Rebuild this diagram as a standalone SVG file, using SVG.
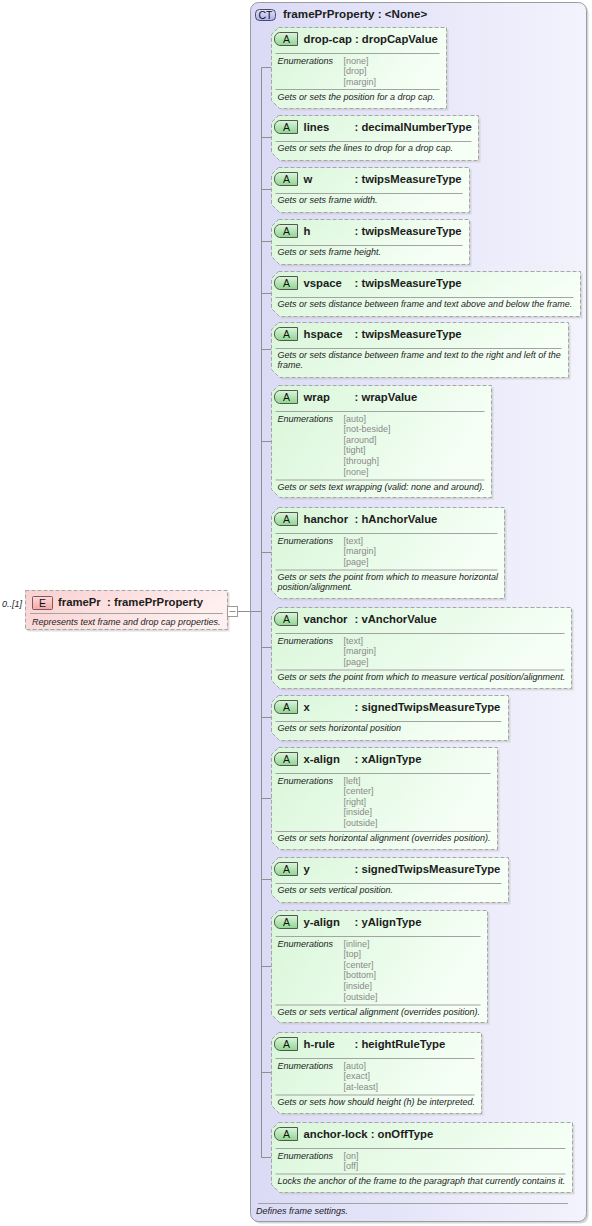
<svg xmlns="http://www.w3.org/2000/svg" width="592" height="1226" viewBox="0 0 592 1226">
<defs>
<linearGradient id="gCT" x1="0" y1="0" x2="1" y2="0"><stop offset="0" stop-color="#dadaf6"/><stop offset="1" stop-color="#f3f3fd"/></linearGradient>
<linearGradient id="gA" x1="0" y1="0" x2="1" y2="0.3"><stop offset="0" stop-color="#d9f6d9"/><stop offset="1" stop-color="#f6fff6"/></linearGradient>
<linearGradient id="gE" x1="0" y1="0" x2="1" y2="0.3"><stop offset="0" stop-color="#f9d0d0"/><stop offset="1" stop-color="#fff0f0"/></linearGradient>
<linearGradient id="gBA" x1="0" y1="0" x2="0" y2="1"><stop offset="0" stop-color="#dcf6dc"/><stop offset="1" stop-color="#8ed58e"/></linearGradient>
<linearGradient id="gBC" x1="0" y1="0" x2="0" y2="1"><stop offset="0" stop-color="#e2e2fb"/><stop offset="1" stop-color="#aeaeea"/></linearGradient>
<linearGradient id="gBE" x1="0" y1="0" x2="0" y2="1"><stop offset="0" stop-color="#fbdcdc"/><stop offset="1" stop-color="#f0a8a8"/></linearGradient>
</defs>
<style>
.ct{fill:url(#gCT);stroke:#9c9c9c;stroke-width:1}
.ctshd{fill:#d6d6d6}
.attr{fill:url(#gA);stroke:#a6a6a6;stroke-dasharray:4 2}
.elem{fill:url(#gE);stroke:#a6a6a6;stroke-dasharray:4 2}
.shd{fill:#c8c8c8;opacity:.6}
.bA{fill:url(#gBA);stroke:#555}
.bC{fill:url(#gBC);stroke:#4a4a6a}
.bE{fill:url(#gBE);stroke:#8a5555}
.sep{stroke:#a3a3a3;stroke-width:1;fill:none}
.con{stroke:#8f8f8f;stroke-width:1;fill:none}
.hdr{font-family:'Liberation Sans',Arial,sans-serif;font-weight:bold;font-size:11.3px;fill:#1c1c1c}
.bt{font-family:'Liberation Sans',Arial,sans-serif;font-size:10.5px;fill:#111;text-anchor:middle}
.dsc{font-family:'Liberation Sans',Arial,sans-serif;font-style:italic;font-size:9px;fill:#222}
.env{font-family:'Liberation Sans',Arial,sans-serif;font-size:9px;fill:#8a8a8a}
.minus{fill:#fff;stroke:#9a9a9a}
</style>

<g id="ct-framePrProperty">
<rect class="ctshd" x="252.5" y="4.5" width="336" height="1219" rx="8"/>
<rect class="ct" x="250.5" y="2.5" width="336" height="1219" rx="8"/>
<rect class="bC" x="255.5" y="9.5" width="20" height="11" rx="4"/>
<text class="bt" x="265.5" y="18.8">CT</text>
<text class="hdr" x="283" y="17.5" style="font-size:11.6px">framePrProperty : &lt;None&gt;</text>
<line class="sep" x1="258" y1="1203.5" x2="568" y2="1203.5"/>
<text class="dsc" x="256" y="1213.5">Defines frame settings.</text>
</g>

<g id="connectors">
<path class="con" d="M261.5,67.5 V1157.5"/>
<path class="con" d="M261.5,67.5 H271.5 M261.5,137.5 H271.5 M261.5,189.5 H271.5 M261.5,241.5 H271.5 M261.5,293.5 H271.5 M261.5,349.5 H271.5 M261.5,441.5 H271.5 M261.5,552.5 H271.5 M261.5,647.5 H271.5 M261.5,717.5 H271.5 M261.5,798.5 H271.5 M261.5,879.5 H271.5 M261.5,966.5 H271.5 M261.5,1072.5 H271.5 M261.5,1157.5 H271.5"/>
<path class="con" d="M237.5,611.5 H261.5"/>
</g>

<g id="attr-drop-cap" transform="translate(271.5,27.5)">
<path class="shd" d="M9,2 H177 V83 H10 L2,75 V9 Z"/>
<path class="attr" d="M7,0 H175 V81 H8 L0,73 V7 Z"/>
<path class="bA" d="M26,5 H8 C4,6 3,9 3,11.5 C3,14 4,17 8,18 H26 Z"/>
<text class="bt" x="15" y="15.5">A</text>
<text class="hdr" x="32" y="15.5">drop-cap : dropCapValue</text>
<line class="sep" x1="4" y1="26" x2="168" y2="26"/>
<text class="dsc" x="6" y="36">Enumerations</text>
<text class="env" x="72" y="36">[none]</text>
<text class="env" x="72" y="46.6">[drop]</text>
<text class="env" x="72" y="57.2">[margin]</text>
<line class="sep" x1="4" y1="62" x2="168" y2="62"/>
<text class="dsc" x="6" y="72">Gets or sets the position for a drop cap.</text>
</g>

<g id="attr-lines" transform="translate(271.5,115.5)">
<path class="shd" d="M9,2 H209 V47 H10 L2,39 V9 Z"/>
<path class="attr" d="M7,0 H207 V45 H8 L0,37 V7 Z"/>
<path class="bA" d="M26,5 H8 C4,6 3,9 3,11.5 C3,14 4,17 8,18 H26 Z"/>
<text class="bt" x="15" y="15.5">A</text>
<text class="hdr" x="32" y="15.5">lines</text>
<text class="hdr" x="83" y="15.5">: decimalNumberType</text>
<line class="sep" x1="4" y1="26" x2="200" y2="26"/>
<text class="dsc" x="6" y="35.5">Gets or sets the lines to drop for a drop cap.</text>
</g>

<g id="attr-w" transform="translate(271.5,167.5)">
<path class="shd" d="M9,2 H200 V47 H10 L2,39 V9 Z"/>
<path class="attr" d="M7,0 H198 V45 H8 L0,37 V7 Z"/>
<path class="bA" d="M26,5 H8 C4,6 3,9 3,11.5 C3,14 4,17 8,18 H26 Z"/>
<text class="bt" x="15" y="15.5">A</text>
<text class="hdr" x="32" y="15.5">w</text>
<text class="hdr" x="83" y="15.5">: twipsMeasureType</text>
<line class="sep" x1="4" y1="26" x2="191" y2="26"/>
<text class="dsc" x="6" y="35.5">Gets or sets frame width.</text>
</g>

<g id="attr-h" transform="translate(271.5,219.5)">
<path class="shd" d="M9,2 H200 V47 H10 L2,39 V9 Z"/>
<path class="attr" d="M7,0 H198 V45 H8 L0,37 V7 Z"/>
<path class="bA" d="M26,5 H8 C4,6 3,9 3,11.5 C3,14 4,17 8,18 H26 Z"/>
<text class="bt" x="15" y="15.5">A</text>
<text class="hdr" x="32" y="15.5">h</text>
<text class="hdr" x="83" y="15.5">: twipsMeasureType</text>
<line class="sep" x1="4" y1="26" x2="191" y2="26"/>
<text class="dsc" x="6" y="35.5">Gets or sets frame height.</text>
</g>

<g id="attr-vspace" transform="translate(271.5,271.5)">
<path class="shd" d="M9,2 H311 V47 H10 L2,39 V9 Z"/>
<path class="attr" d="M7,0 H309 V45 H8 L0,37 V7 Z"/>
<path class="bA" d="M26,5 H8 C4,6 3,9 3,11.5 C3,14 4,17 8,18 H26 Z"/>
<text class="bt" x="15" y="15.5">A</text>
<text class="hdr" x="32" y="15.5">vspace</text>
<text class="hdr" x="83" y="15.5">: twipsMeasureType</text>
<line class="sep" x1="4" y1="26" x2="302" y2="26"/>
<text class="dsc" x="6" y="35.5">Gets or sets distance between frame and text above and below the frame.</text>
</g>

<g id="attr-hspace" transform="translate(271.5,322.5)">
<path class="shd" d="M9,2 H299 V57 H10 L2,49 V9 Z"/>
<path class="attr" d="M7,0 H297 V55 H8 L0,47 V7 Z"/>
<path class="bA" d="M26,5 H8 C4,6 3,9 3,11.5 C3,14 4,17 8,18 H26 Z"/>
<text class="bt" x="15" y="15.5">A</text>
<text class="hdr" x="32" y="15.5">hspace</text>
<text class="hdr" x="83" y="15.5">: twipsMeasureType</text>
<line class="sep" x1="4" y1="26" x2="290" y2="26"/>
<text class="dsc" x="6" y="35.5">Gets or sets distance between frame and text to the right and left of the</text>
<text class="dsc" x="6" y="45.5">frame.</text>
</g>

<g id="attr-wrap" transform="translate(271.5,385.5)">
<path class="shd" d="M9,2 H222 V114 H10 L2,106 V9 Z"/>
<path class="attr" d="M7,0 H220 V112 H8 L0,104 V7 Z"/>
<path class="bA" d="M26,5 H8 C4,6 3,9 3,11.5 C3,14 4,17 8,18 H26 Z"/>
<text class="bt" x="15" y="15.5">A</text>
<text class="hdr" x="32" y="15.5">wrap</text>
<text class="hdr" x="83" y="15.5">: wrapValue</text>
<line class="sep" x1="4" y1="26" x2="213" y2="26"/>
<text class="dsc" x="6" y="36">Enumerations</text>
<text class="env" x="72" y="36">[auto]</text>
<text class="env" x="72" y="46.6">[not-beside]</text>
<text class="env" x="72" y="57.2">[around]</text>
<text class="env" x="72" y="67.8">[tight]</text>
<text class="env" x="72" y="78.4">[through]</text>
<text class="env" x="72" y="89">[none]</text>
<line class="sep" x1="4" y1="94.5" x2="213" y2="94.5"/>
<text class="dsc" x="6" y="104">Gets or sets text wrapping (valid: none and around).</text>
</g>

<g id="attr-hanchor" transform="translate(271.5,507.5)">
<path class="shd" d="M9,2 H235 V93 H10 L2,85 V9 Z"/>
<path class="attr" d="M7,0 H233 V91 H8 L0,83 V7 Z"/>
<path class="bA" d="M26,5 H8 C4,6 3,9 3,11.5 C3,14 4,17 8,18 H26 Z"/>
<text class="bt" x="15" y="15.5">A</text>
<text class="hdr" x="32" y="15.5">hanchor</text>
<text class="hdr" x="83" y="15.5">: hAnchorValue</text>
<line class="sep" x1="4" y1="26" x2="226" y2="26"/>
<text class="dsc" x="6" y="36">Enumerations</text>
<text class="env" x="72" y="36">[text]</text>
<text class="env" x="72" y="46.6">[margin]</text>
<text class="env" x="72" y="57.2">[page]</text>
<line class="sep" x1="4" y1="62.5" x2="226" y2="62.5"/>
<text class="dsc" x="6" y="72">Gets or sets the point from which to measure horizontal</text>
<text class="dsc" x="6" y="82">position/alignment.</text>
</g>

<g id="attr-vanchor" transform="translate(271.5,607.5)">
<path class="shd" d="M9,2 H302 V83 H10 L2,75 V9 Z"/>
<path class="attr" d="M7,0 H300 V81 H8 L0,73 V7 Z"/>
<path class="bA" d="M26,5 H8 C4,6 3,9 3,11.5 C3,14 4,17 8,18 H26 Z"/>
<text class="bt" x="15" y="15.5">A</text>
<text class="hdr" x="32" y="15.5">vanchor</text>
<text class="hdr" x="83" y="15.5">: vAnchorValue</text>
<line class="sep" x1="4" y1="26" x2="293" y2="26"/>
<text class="dsc" x="6" y="36">Enumerations</text>
<text class="env" x="72" y="36">[text]</text>
<text class="env" x="72" y="46.6">[margin]</text>
<text class="env" x="72" y="57.2">[page]</text>
<line class="sep" x1="4" y1="62.5" x2="293" y2="62.5"/>
<text class="dsc" x="6" y="72">Gets or sets the point from which to measure vertical position/alignment.</text>
</g>

<g id="attr-x" transform="translate(271.5,695.5)">
<path class="shd" d="M9,2 H239 V47 H10 L2,39 V9 Z"/>
<path class="attr" d="M7,0 H237 V45 H8 L0,37 V7 Z"/>
<path class="bA" d="M26,5 H8 C4,6 3,9 3,11.5 C3,14 4,17 8,18 H26 Z"/>
<text class="bt" x="15" y="15.5">A</text>
<text class="hdr" x="32" y="15.5">x</text>
<text class="hdr" x="83" y="15.5">: signedTwipsMeasureType</text>
<line class="sep" x1="4" y1="26" x2="230" y2="26"/>
<text class="dsc" x="6" y="35.5">Gets or sets horizontal position</text>
</g>

<g id="attr-x-align" transform="translate(271.5,747.5)">
<path class="shd" d="M9,2 H228 V104 H10 L2,96 V9 Z"/>
<path class="attr" d="M7,0 H226 V102 H8 L0,94 V7 Z"/>
<path class="bA" d="M26,5 H8 C4,6 3,9 3,11.5 C3,14 4,17 8,18 H26 Z"/>
<text class="bt" x="15" y="15.5">A</text>
<text class="hdr" x="32" y="15.5">x-align</text>
<text class="hdr" x="83" y="15.5">: xAlignType</text>
<line class="sep" x1="4" y1="26" x2="219" y2="26"/>
<text class="dsc" x="6" y="36">Enumerations</text>
<text class="env" x="72" y="36">[left]</text>
<text class="env" x="72" y="46.6">[center]</text>
<text class="env" x="72" y="57.2">[right]</text>
<text class="env" x="72" y="67.8">[inside]</text>
<text class="env" x="72" y="78.4">[outside]</text>
<line class="sep" x1="4" y1="84" x2="219" y2="84"/>
<text class="dsc" x="6" y="93.5">Gets or sets horizontal alignment (overrides position).</text>
</g>

<g id="attr-y" transform="translate(271.5,857.5)">
<path class="shd" d="M9,2 H239 V47 H10 L2,39 V9 Z"/>
<path class="attr" d="M7,0 H237 V45 H8 L0,37 V7 Z"/>
<path class="bA" d="M26,5 H8 C4,6 3,9 3,11.5 C3,14 4,17 8,18 H26 Z"/>
<text class="bt" x="15" y="15.5">A</text>
<text class="hdr" x="32" y="15.5">y</text>
<text class="hdr" x="83" y="15.5">: signedTwipsMeasureType</text>
<line class="sep" x1="4" y1="26" x2="230" y2="26"/>
<text class="dsc" x="6" y="35.5">Gets or sets vertical position.</text>
</g>

<g id="attr-y-align" transform="translate(271.5,910.5)">
<path class="shd" d="M9,2 H218 V114 H10 L2,106 V9 Z"/>
<path class="attr" d="M7,0 H216 V112 H8 L0,104 V7 Z"/>
<path class="bA" d="M26,5 H8 C4,6 3,9 3,11.5 C3,14 4,17 8,18 H26 Z"/>
<text class="bt" x="15" y="15.5">A</text>
<text class="hdr" x="32" y="15.5">y-align</text>
<text class="hdr" x="83" y="15.5">: yAlignType</text>
<line class="sep" x1="4" y1="26" x2="209" y2="26"/>
<text class="dsc" x="6" y="36">Enumerations</text>
<text class="env" x="72" y="36">[inline]</text>
<text class="env" x="72" y="46.6">[top]</text>
<text class="env" x="72" y="57.2">[center]</text>
<text class="env" x="72" y="67.8">[bottom]</text>
<text class="env" x="72" y="78.4">[inside]</text>
<text class="env" x="72" y="89">[outside]</text>
<line class="sep" x1="4" y1="94.5" x2="209" y2="94.5"/>
<text class="dsc" x="6" y="104">Gets or sets vertical alignment (overrides position).</text>
</g>

<g id="attr-h-rule" transform="translate(271.5,1032.5)">
<path class="shd" d="M9,2 H212 V83 H10 L2,75 V9 Z"/>
<path class="attr" d="M7,0 H210 V81 H8 L0,73 V7 Z"/>
<path class="bA" d="M26,5 H8 C4,6 3,9 3,11.5 C3,14 4,17 8,18 H26 Z"/>
<text class="bt" x="15" y="15.5">A</text>
<text class="hdr" x="32" y="15.5">h-rule</text>
<text class="hdr" x="83" y="15.5">: heightRuleType</text>
<line class="sep" x1="4" y1="26" x2="203" y2="26"/>
<text class="dsc" x="6" y="36">Enumerations</text>
<text class="env" x="72" y="36">[auto]</text>
<text class="env" x="72" y="46.6">[exact]</text>
<text class="env" x="72" y="57.2">[at-least]</text>
<line class="sep" x1="4" y1="62.5" x2="203" y2="62.5"/>
<text class="dsc" x="6" y="72">Gets or sets how should height (h) be interpreted.</text>
</g>

<g id="attr-anchor-lock" transform="translate(271.5,1122.5)">
<path class="shd" d="M9,2 H303 V72 H10 L2,64 V9 Z"/>
<path class="attr" d="M7,0 H301 V70 H8 L0,62 V7 Z"/>
<path class="bA" d="M26,5 H8 C4,6 3,9 3,11.5 C3,14 4,17 8,18 H26 Z"/>
<text class="bt" x="15" y="15.5">A</text>
<text class="hdr" x="32" y="15.5">anchor-lock : onOffType</text>
<line class="sep" x1="4" y1="26" x2="294" y2="26"/>
<text class="dsc" x="6" y="36">Enumerations</text>
<text class="env" x="72" y="36">[on]</text>
<text class="env" x="72" y="46.6">[off]</text>
<line class="sep" x1="4" y1="51.5" x2="294" y2="51.5"/>
<text class="dsc" x="6" y="61">Locks the anchor of the frame to the paragraph that currently contains it.</text>
</g>

<g id="elem-framePr">
<text class="dsc" x="2" y="607">0..[1]</text>
<rect class="shd" x="27.5" y="592.5" width="202" height="39"/>
<rect class="elem" x="25.5" y="590.5" width="202" height="39"/>
<rect class="bE" x="32.5" y="596.5" width="20" height="13" rx="1"/>
<text class="bt" x="42.5" y="607">E</text>
<text class="hdr" x="58" y="606">framePr</text>
<text class="hdr" x="107" y="606">: framePrProperty</text>
<line class="sep" x1="30" y1="613.5" x2="223" y2="613.5"/>
<text class="dsc" x="32" y="624.5">Represents text frame and drop cap properties.</text>
<rect class="minus" x="227.5" y="606.5" width="10" height="10"/>
<line class="con" x1="229.5" y1="611.5" x2="235.5" y2="611.5"/>
</g>
</svg>
